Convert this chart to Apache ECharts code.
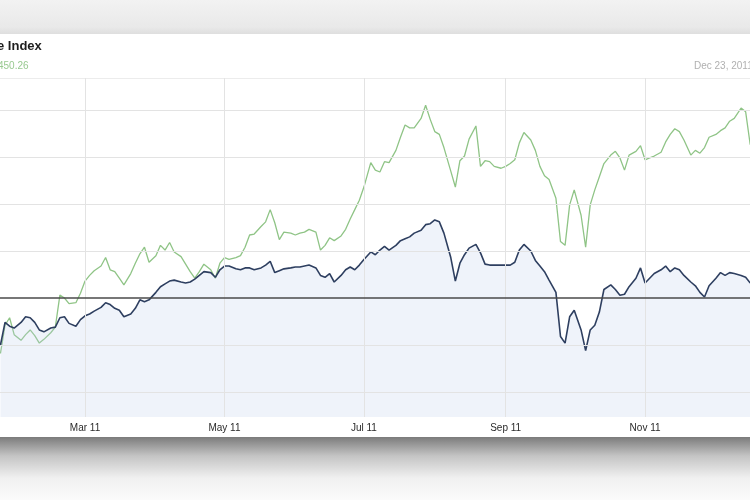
<!DOCTYPE html>
<html><head><meta charset="utf-8">
<script src="https://cdn.jsdelivr.net/npm/echarts@6/dist/echarts.min.js"></script>
<style>html,body{margin:0;padding:0;background:#fff}#c{width:750px;height:500px}</style>
</head><body><div id="c"></div>
<script>
// Day of year (2011) for each sampled point
const tradingDay = [22,24,26,28,31,33,35,37,39,41,
44,46,48,50,52,55,57,59,61,63,
66,68,70,72,74,76,79,81,83,85,
87,90,92,94,96,98,101,103,105,107,
109,111,114,116,118,120,122,125,127,129,
131,133,136,138,140,142,144,146,149,151,
153,155,157,160,162,164,166,168,171,173,
175,177,179,181,184,186,188,190,192,195,
197,199,201,203,206,208,210,212,214,216,
219,221,223,225,227,230,232,234,236,238,
241,243,245,247,249,251,254,256,258,260,
262,265,267,269,271,273,276,278,280,282,
284,286,289,291,293,295,297,300,302,304,
306,308,311,313,315,317,319,321,324,326,
328,330,332,335,337,339,341,343,346,348,
350];
// Index, % change (navy line with area)
const indexChange = [-5.0,-2.6,-3.0,-3.2,-2.6,-2.0,-2.1,-2.6,-3.4,-3.6,
-3.2,-3.1,-2.1,-2.0,-2.7,-3.0,-2.3,-1.9,-1.7,-1.4,
-1.0,-0.5,-0.7,-1.1,-1.3,-2.0,-1.7,-1.1,-0.2,-0.4,
-0.2,0.6,1.2,1.5,1.8,1.9,1.7,1.6,1.7,2.0,
2.4,2.8,2.7,2.2,3.0,3.4,3.4,3.1,3.0,3.2,
3.2,3.0,3.2,3.5,3.9,2.7,2.9,3.1,3.2,3.3,
3.3,3.4,3.5,3.2,2.4,2.2,2.6,1.7,2.4,3.0,
3.3,3.0,3.5,4.1,4.9,4.6,5.1,5.5,5.1,5.6,
6.1,6.3,6.5,6.9,7.2,7.8,7.9,8.3,8.1,6.9,
4.3,1.8,3.7,4.6,5.3,5.7,4.8,3.6,3.5,3.5,
3.5,3.5,3.5,3.8,5.1,5.7,5.0,4.0,3.4,2.8,
1.9,0.6,-4.1,-4.8,-2.0,-1.3,-3.4,-5.6,-3.4,-2.9,
-1.5,0.9,1.4,0.9,0.3,0.4,1.2,2.1,3.2,1.6,
2.1,2.6,3.0,3.4,2.8,3.2,3.0,2.4,1.7,1.3,
0.6,0.1,1.3,2.1,2.7,2.4,2.7,2.6,2.4,2.2,
1.6];
// Comparison, % change (green line)
const compareChange = [-5.9,-2.9,-2.1,-3.9,-4.5,-3.9,-3.4,-4.0,-4.8,-4.4,
-3.7,-3.1,0.3,0.0,-0.6,-0.5,0.5,1.8,2.4,2.9,
3.4,4.3,3.0,2.8,2.1,1.4,2.6,3.7,4.7,5.4,
3.8,4.5,5.6,5.1,5.9,4.9,4.4,3.6,2.8,2.1,
2.8,3.6,3.0,2.1,3.7,4.3,4.1,4.3,4.5,5.4,
6.7,6.8,7.6,8.1,9.4,8.0,6.2,7.0,6.9,6.7,
6.9,7.0,7.3,7.0,5.1,5.6,6.4,6.1,6.6,7.3,
8.4,9.4,10.4,11.8,14.4,13.6,13.4,14.5,14.4,15.7,
17.1,18.4,18.1,18.1,19.1,20.5,19.0,17.7,17.4,16.0,
13.5,11.8,14.6,15.1,16.9,18.3,14.0,14.6,14.5,14.0,
13.8,14.0,14.3,14.7,16.5,17.6,16.8,15.7,14.0,13.0,
12.6,10.6,6.0,5.6,9.9,11.5,8.8,5.4,9.9,11.5,
12.9,14.3,15.2,15.6,14.9,13.6,15.2,15.6,16.2,14.7,
14.9,15.1,15.5,16.6,17.4,18.0,17.7,16.8,15.2,15.7,
15.4,16.0,17.1,17.4,17.8,18.1,18.8,19.1,20.2,19.8,
16.3];
const gridLevels = [-10, -5, 5, 10, 15, 20];
const tickDays = [59, 120, 181, 243, 304];
const tickLabels = ['Mar 11', 'May 11', 'Jul 11', 'Sep 11', 'Nov 11'];

const chart = echarts.init(document.getElementById('c'), null, {renderer: 'canvas'});
const navyData = tradingDay.map((d, i) => [d, indexChange[i]]);
const greenData = tradingDay.map((d, i) => [d, compareChange[i]]);
const font = "'Liberation Sans', Arial, sans-serif";

const gridMarks = gridLevels.map(v => ({yAxis: v, label: {show: false}}))
  .concat(tickDays.map((d, i) => ({xAxis: d, name: tickLabels[i]})));

chart.setOption({
  animation: false,
  backgroundColor: '#ffffff',
  grid: {left: 0, right: 0, top: 78, bottom: 83},
  xAxis: {type: 'value', min: 21.8, max: 349.9, show: false},
  yAxis: {type: 'value', min: -12.66, max: 23.4, show: false},
  series: [
    {
      type: 'line', name: 'compare', data: greenData, z: 2, symbol: 'none', silent: true,
      lineStyle: {color: '#8fc486', width: 1.3},
      markLine: {
        silent: true, symbol: 'none', animation: false,
        lineStyle: {color: '#e3e3e3', width: 1, type: 'solid'},
        label: {show: true, position: 'start', formatter: '{b}', color: '#2a2a2a',
                fontSize: 10, fontFamily: font, distance: 6},
        data: gridMarks
      }
    },
    {
      type: 'line', name: 'index', data: navyData, z: 3, symbol: 'none', silent: true,
      lineStyle: {color: '#2e3f60', width: 1.6},
      areaStyle: {origin: 'start', color: 'rgba(190,208,236,0.36)'},
      markLine: {
        silent: true, symbol: 'none', animation: false,
        lineStyle: {color: '#4a4a4a', width: 1.6, type: 'solid'},
        label: {show: false},
        data: [{yAxis: 0}]
      }
    }
  ],
  graphic: [
    {type: 'rect', shape: {x: 0, y: 0, width: 750, height: 34}, silent: true,
     style: {fill: new echarts.graphic.LinearGradient(0, 0, 0, 1, [
       {offset: 0, color: '#f2f2f2'}, {offset: 0.8, color: '#e9e9e9'}, {offset: 1, color: '#dedede'}])}},
    {type: 'rect', shape: {x: 0, y: 437, width: 750, height: 63}, silent: true,
     style: {fill: new echarts.graphic.LinearGradient(0, 0, 0, 1, [
       {offset: 0, color: '#7b7b7b'}, {offset: 0.3, color: '#c4c4c4'},
       {offset: 0.65, color: '#f0f0f0'}, {offset: 1, color: '#fbfbfb'}])}},
    {type: 'line', shape: {x1: 0, y1: 78.5, x2: 750, y2: 78.5}, silent: true,
     style: {stroke: '#ececec', lineWidth: 1}},
    {type: 'text', left: -3, top: 40, silent: true,
     style: {text: 'e Index', fill: '#1e1e1e', font: 'bold 13px ' + font}},
    {type: 'text', left: -2, top: 61, silent: true,
     style: {text: '450.26', fill: '#98c990', font: '10px ' + font}},
    {type: 'text', left: 694, top: 61, silent: true,
     style: {text: 'Dec 23, 2011', fill: '#b0b0b0', font: '10px ' + font}}
  ]
});
</script>
</body></html>
